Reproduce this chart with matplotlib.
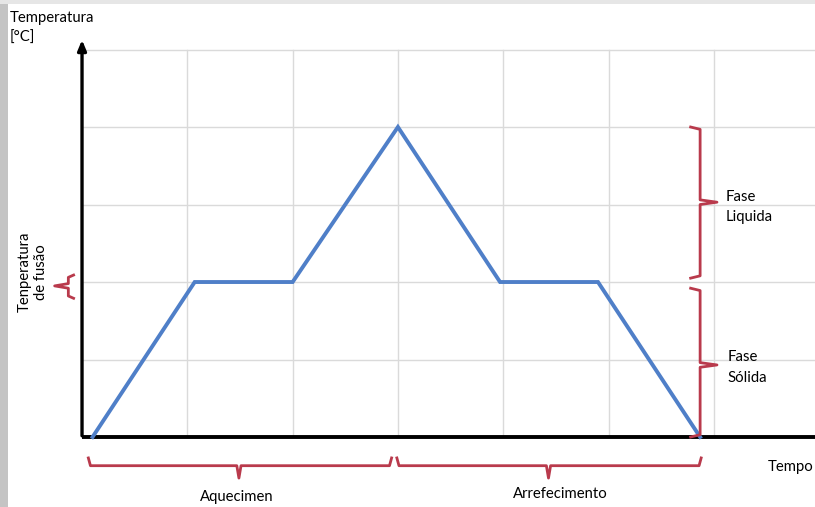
import numpy as np
import matplotlib
matplotlib.use("Agg")
from matplotlib import pyplot as plt
from matplotlib.patches import Rectangle

plt.rcParams['font.family'] = ['Lato', 'DejaVu Sans']

# dados da curva (tempo, temperatura) em unidades da grelha
tempo = [0.1, 1.07, 2.0, 3.0, 3.97, 4.9, 5.87]
temperatura = [0, 2, 2, 4, 2, 2, 0]

grid_x = [1, 2, 3, 4, 5, 6]
grid_y = [1, 2, 3, 4, 5]

# chavetas: (inicio, fim, ponta)
fase_liquida = (2.05, 4.0, 3.03)
fase_solida = (0.0, 1.92, 0.93)
aquecimento = (0.06, 2.94, 1.49)
arrefecimento = (2.99, 5.88, 4.43)
fusao = (1.79, 2.09, 1.95)

RED = '#b93a4c'
BLUE = '#4f7fc8'

fig = plt.figure(figsize=(8.15, 5.07), dpi=100)
ax = fig.add_axes([0, 0, 1, 1])
ax.set_xlim(-0.779, 6.961)
ax.set_ylim(-0.903, 5.639)
ax.axis('off')

# faixas cinzentas nas margens
ax.add_patch(Rectangle((0, 0), 0.010, 1, transform=ax.transAxes,
                       facecolor='#c4c4c4', edgecolor='none', zorder=0))
ax.add_patch(Rectangle((0, 0.992), 1, 0.008, transform=ax.transAxes,
                       facecolor='#e6e6e6', edgecolor='none', zorder=0))

# grelha
for gx in grid_x:
    ax.plot([gx, gx], [0, 5], color='#dadada', lw=1, zorder=1)
for gy in grid_y:
    ax.plot([0, 7], [gy, gy], color='#dadada', lw=1, zorder=1)

# eixos
ax.plot([0, 7], [0, 0], color='black', lw=2.8, zorder=3, solid_capstyle='butt')
ax.annotate('', xy=(0, 5.16), xytext=(0, -0.02),
            arrowprops=dict(arrowstyle='-|>,head_width=0.25,head_length=0.6',
                            color='black', lw=2.4), zorder=3)

# curva
ax.plot(tempo, temperatura, color=BLUE, lw=2.8, zorder=4, solid_joinstyle='miter')


def chaveta_vertical(x, y0, y1, ym, lado, hook=0.09, tip=0.16):
    # lado=+1 ponta para a direita, -1 para a esquerda
    xs = [x - lado * hook, x, x, x + lado * tip, x, x, x - lado * hook]
    ys = [y0, y0 + 0.03, ym - 0.03, ym, ym + 0.03, y1 - 0.03, y1]
    ax.plot(xs, ys, color=RED, lw=2, zorder=5, solid_joinstyle='round')


def chaveta_horizontal(y, x0, x1, xm, hook=0.1, tip=0.16):
    xs = [x0, x0 + 0.02, xm - 0.02, xm, xm + 0.02, x1 - 0.02, x1]
    ys = [y + hook, y, y, y - tip, y, y, y + hook]
    ax.plot(xs, ys, color=RED, lw=2, zorder=5, solid_joinstyle='round')


chaveta_vertical(5.87, fase_liquida[0], fase_liquida[1], fase_liquida[2], 1)
chaveta_vertical(5.87, fase_solida[0], fase_solida[1], fase_solida[2], 1)
chaveta_vertical(-0.13, fusao[0], fusao[1], fusao[2], -1, hook=0.05, tip=0.13)
chaveta_horizontal(-0.37, aquecimento[0], aquecimento[1], aquecimento[2])
chaveta_horizontal(-0.37, arrefecimento[0], arrefecimento[1], arrefecimento[2])

# textos
fs = 10.7
ax.text(-0.69, 5.50, 'Temperatura\n[°C]', fontsize=fs, va='top', ha='left',
        linespacing=1.55)
ax.text(-0.465, 2.13, 'Tenperatura\nde fusão', fontsize=fs, rotation=90,
        va='center', ha='center', multialignment='center', linespacing=1.25)
ax.text(6.11, 2.97, 'Fase\nLiquida', fontsize=fs, va='center', ha='left',
        linespacing=1.6)
ax.text(6.13, 0.90, 'Fase\nSólida', fontsize=fs, va='center', ha='left',
        linespacing=1.6)
ax.text(6.945, -0.39, 'Tempo', fontsize=fs, va='center', ha='right')
ax.text(1.47, -0.77, 'Aquecimen', fontsize=fs, va='center', ha='center')
ax.text(4.54, -0.74, 'Arrefecimento', fontsize=fs, va='center', ha='center')

fig.savefig('out.png', dpi=100)
